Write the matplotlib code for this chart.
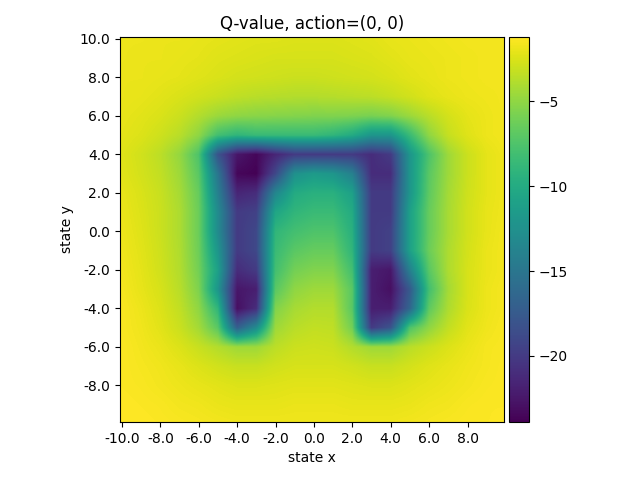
import numpy as np
import matplotlib
matplotlib.use("Agg")
import matplotlib.pyplot as plt

# state grid (1 unit spacing), rows run from y=10 (top) to y=-10 (bottom)
state_x = np.arange(-10, 11)
state_y = np.arange(10, -11, -1)

q_rows = [
    [-1.8, -1.8, -1.9, -1.9, -2.0, -2.1, -2.2, -2.3, -2.3, -2.4, -2.4, -2.4, -2.3, -2.2, -2.0, -1.9, -1.8, -1.7, -1.6, -1.6, -1.6],
    [-1.8, -1.9, -1.9, -2.0, -2.1, -2.3, -2.4, -2.5, -2.6, -2.6, -2.6, -2.6, -2.5, -2.4, -2.2, -2.0, -1.9, -1.8, -1.7, -1.6, -1.6],
    [-1.9, -1.9, -2.0, -2.1, -2.3, -2.5, -2.7, -2.8, -2.9, -3.0, -3.0, -2.9, -2.8, -2.7, -2.5, -2.2, -2.0, -1.8, -1.7, -1.6, -1.6],
    [-1.9, -2.0, -2.2, -2.5, -2.8, -3.1, -3.4, -3.6, -3.7, -3.8, -3.8, -3.7, -3.6, -3.5, -3.2, -2.8, -2.3, -2.0, -1.8, -1.7, -1.6],
    [-2.0, -2.2, -2.5, -3.0, -3.8, -4.6, -5.0, -5.2, -5.3, -5.4, -5.5, -5.5, -5.6, -5.8, -5.5, -4.6, -3.6, -2.7, -2.1, -1.8, -1.6],
    [-2.1, -2.4, -2.9, -3.6, -5.0, -8.0, -9.0, -8.5, -8.5, -8.5, -8.5, -9.0, -10.0, -12.0, -12.0, -8.5, -5.0, -3.2, -2.3, -1.8, -1.6],
    [-2.3, -2.8, -3.5, -4.8, -7.5, -18.0, -22.5, -23.5, -21.5, -20.0, -20.0, -20.0, -20.0, -21.0, -20.0, -12.0, -7.5, -4.5, -3.0, -2.1, -1.7],
    [-2.2, -2.7, -3.3, -4.5, -7.0, -15.0, -23.5, -23.8, -19.0, -12.5, -11.5, -12.0, -14.0, -21.0, -21.0, -12.0, -7.0, -4.5, -3.0, -2.1, -1.7],
    [-2.0, -2.5, -3.1, -4.2, -6.5, -14.0, -21.5, -21.0, -13.5, -10.0, -9.5, -9.5, -11.0, -20.0, -20.0, -12.0, -6.8, -4.3, -2.9, -2.1, -1.7],
    [-1.9, -2.4, -3.0, -4.0, -6.3, -13.0, -20.0, -19.5, -10.5, -9.0, -8.5, -8.5, -10.0, -20.0, -20.0, -11.0, -6.5, -4.2, -2.8, -2.0, -1.7],
    [-1.8, -2.3, -3.0, -4.0, -6.3, -13.0, -20.0, -19.0, -9.0, -8.0, -7.5, -7.5, -9.5, -20.0, -19.5, -11.0, -6.5, -4.2, -2.8, -2.0, -1.6],
    [-1.7, -2.2, -2.9, -3.9, -6.2, -12.0, -20.0, -19.0, -8.5, -7.0, -6.5, -6.5, -9.0, -20.0, -19.5, -11.0, -6.3, -4.0, -2.7, -1.9, -1.6],
    [-1.6, -2.1, -2.8, -3.8, -6.0, -11.0, -21.0, -20.0, -8.0, -6.0, -5.5, -5.5, -8.0, -22.0, -22.5, -14.0, -7.0, -4.0, -2.6, -1.9, -1.6],
    [-1.5, -2.0, -2.6, -3.6, -5.6, -12.0, -22.5, -22.0, -7.0, -5.0, -4.5, -4.5, -7.0, -22.0, -23.0, -17.5, -8.0, -4.3, -2.6, -1.8, -1.5],
    [-1.4, -1.8, -2.4, -3.3, -5.0, -9.0, -23.0, -21.0, -5.5, -4.2, -3.8, -3.8, -7.0, -22.0, -22.0, -16.5, -6.8, -4.0, -2.5, -1.8, -1.5],
    [-1.4, -1.7, -2.2, -3.0, -4.3, -7.0, -17.0, -13.0, -4.5, -3.6, -3.3, -3.4, -6.0, -20.0, -18.0, -7.5, -5.0, -3.3, -2.2, -1.7, -1.4],
    [-1.3, -1.6, -1.9, -2.4, -3.1, -3.8, -4.5, -4.5, -3.5, -3.0, -2.9, -3.0, -3.8, -4.5, -4.5, -3.6, -3.0, -2.4, -1.9, -1.5, -1.4],
    [-1.3, -1.5, -1.7, -2.0, -2.4, -2.8, -3.1, -3.1, -2.8, -2.6, -2.6, -2.6, -2.8, -3.1, -3.1, -2.7, -2.3, -2.0, -1.7, -1.5, -1.3],
    [-1.3, -1.4, -1.6, -1.8, -2.0, -2.2, -2.4, -2.4, -2.3, -2.2, -2.2, -2.2, -2.3, -2.4, -2.4, -2.2, -2.0, -1.8, -1.6, -1.4, -1.3],
    [-1.2, -1.3, -1.4, -1.6, -1.7, -1.9, -2.0, -2.0, -2.0, -1.9, -1.9, -1.9, -2.0, -2.0, -2.0, -1.9, -1.7, -1.6, -1.4, -1.3, -1.3],
    [-1.2, -1.2, -1.3, -1.4, -1.5, -1.6, -1.7, -1.7, -1.7, -1.7, -1.7, -1.7, -1.7, -1.7, -1.7, -1.6, -1.5, -1.4, -1.3, -1.3, -1.2],
]

x_ticks = [-10.0, -8.0, -6.0, -4.0, -2.0, 0.0, 2.0, 4.0, 6.0, 8.0]
y_ticks = [10.0, 8.0, 6.0, 4.0, 2.0, 0.0, -2.0, -4.0, -6.0, -8.0]

q = np.array(q_rows)

fig = plt.figure(figsize=(6.4, 4.8), dpi=100)
ax = fig.add_axes([120 / 640, 58 / 480, 384 / 640, 385 / 480])
cax = fig.add_axes([509 / 640, 58 / 480, 20 / 640, 385 / 480])

im = ax.imshow(q, cmap="viridis", vmin=-23.9, vmax=-1.2, origin="upper",
               interpolation="bilinear", aspect="auto",
               extent=(state_x[0] - 0.5, state_x[-1] + 0.5,
                       state_y[-1] - 0.5, state_y[0] + 0.5))
ax.set_xlim(-10.1, 9.9)
ax.set_ylim(-9.9, 10.1)
ax.set_xticks(x_ticks)
ax.set_xticklabels([f"{v:.1f}" for v in x_ticks])
ax.set_yticks(y_ticks)
ax.set_yticklabels([f"{v:.1f}" for v in y_ticks])
ax.set_xlabel("state x")
ax.set_ylabel("state y")
ax.set_title("Q-value, action=(0, 0)")

fig.colorbar(im, cax=cax)

plt.savefig("out.png")
